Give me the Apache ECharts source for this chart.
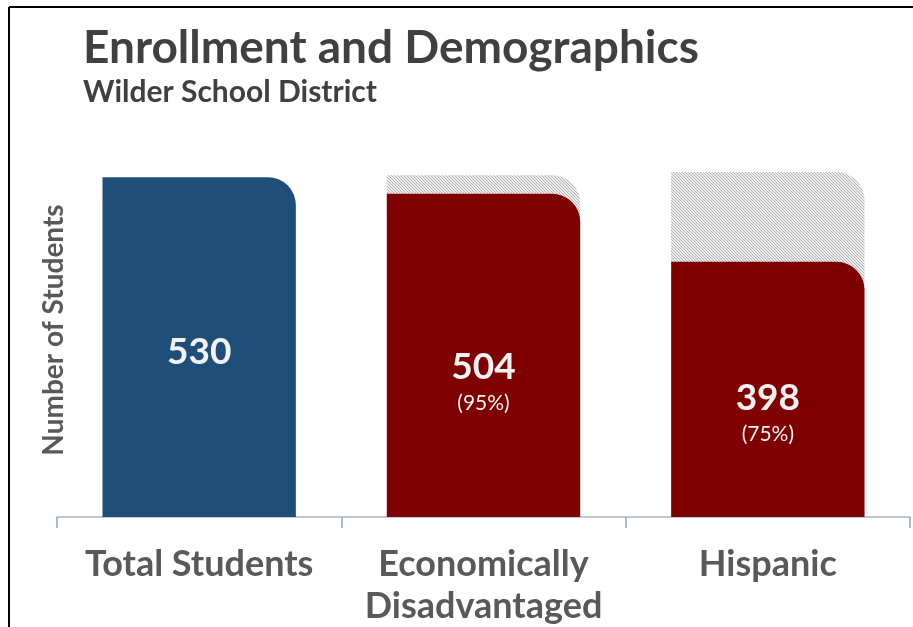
<!DOCTYPE html>
<html>
<head>
<meta charset="utf-8">
<script src="https://cdn.jsdelivr.net/npm/echarts@6/dist/echarts.min.js"></script>
<style>html,body{margin:0;padding:0;background:#fff}#c{width:913px;height:627px}</style>
</head>
<body>
<div id="c"></div>
<script>
var categories = ['Total Students', 'Economically\nDisadvantaged', 'Hispanic'];
var values = [530, 504, 398];
var totals = [null, 533, 538];
var percents = [null, '95%', '75%'];
var barColors = ['#1f4e79', '#7f0000', '#7f0000'];
var labelShift = [5, 27, 24];

function hatch() {
  var c = document.createElement('canvas');
  c.width = 3; c.height = 3;
  var g = c.getContext('2d');
  g.fillStyle = '#ececec'; g.fillRect(0, 0, 3, 3);
  g.fillStyle = '#b4b4b4';
  g.fillRect(0, 0, 1, 1); g.fillRect(1, 1, 1, 1); g.fillRect(2, 2, 1, 1);
  return c;
}
var pat = hatch();

var chart = echarts.init(document.getElementById('c'));
var fam = 'Lato, "Open Sans", sans-serif';
chart.setOption({
  animation: false,
  title: {
    text: 'Enrollment and Demographics',
    subtext: 'Wilder School District',
    left: 78, top: 20,
    itemGap: 6,
    textStyle: { fontFamily: fam, fontSize: 46, fontWeight: 'bold', color: '#404040' },
    subtextStyle: { fontFamily: fam, fontSize: 30, fontWeight: 'bold', color: '#404040' }
  },
  graphic: [
    { type: 'line', shape: { x1: 9, y1: 7, x2: 913, y2: 7 }, style: { stroke: '#000', lineWidth: 2 } },
    { type: 'line', shape: { x1: 9, y1: 7, x2: 9, y2: 627 }, style: { stroke: '#000', lineWidth: 2 } },
    { type: 'text', x: 54, y: 330, rotation: Math.PI / 2,
      style: { text: 'Number of Students', fontFamily: fam, fontSize: 28, fontWeight: 'bold', fill: '#595959', align: 'center', verticalAlign: 'middle' } }
  ],
  grid: { left: 57, right: 3, top: 172, bottom: 110, containLabel: false, outerBoundsMode: 'none' },
  xAxis: {
    type: 'category', data: categories,
    axisLine: { show: true, lineStyle: { color: '#a9b8cc', width: 1.5 } },
    axisTick: { show: true, length: 11, lineStyle: { color: '#8fa3c0', width: 1.5 } },
    axisLabel: { margin: 26, fontFamily: fam, fontSize: 36, fontWeight: 'bold', color: '#595959', lineHeight: 42, interval: 0 }
  },
  yAxis: { type: 'value', min: 0, max: 538, show: false, splitLine: { show: false } },
  series: [
    {
      type: 'bar', data: totals, barWidth: '68%', barGap: '-100%', z: 1,
      itemStyle: { color: { image: pat, repeat: 'repeat' }, borderRadius: [0, 28, 0, 0] },
      silent: true
    },
    {
      type: 'bar', barWidth: '68%', z: 2,
      data: values.map(function (v, i) {
        return { value: v, itemStyle: { color: barColors[i] }, label: { offset: [0, labelShift[i]] } };
      }),
      itemStyle: { borderRadius: [0, 28, 0, 0] },
      label: {
        show: true, position: 'inside',
        formatter: function (p) {
          var pc = percents[p.dataIndex];
          return pc ? '{v|' + p.value + '}\n{p|(' + pc + ')}' : '{v|' + p.value + '}';
        },
        rich: {
          v: { fontFamily: fam, fontSize: 37, fontWeight: 'bold', color: '#f2f2f2', lineHeight: 42 },
          p: { fontFamily: fam, fontSize: 21, color: '#f2f2f2', lineHeight: 30 }
        }
      }
    }
  ]
});
</script>
</body>
</html>
